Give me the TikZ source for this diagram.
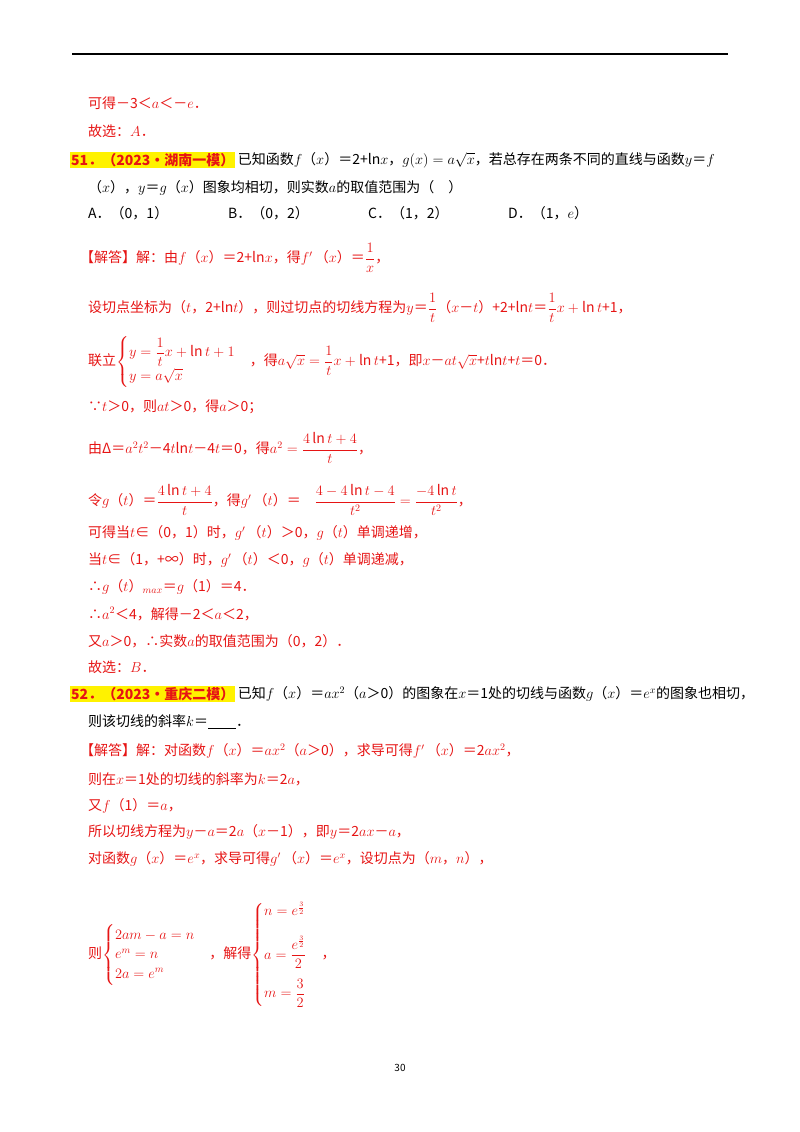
\documentclass[tikz,border=0pt]{standalone}
\usepackage{fontspec}
\usepackage{amsmath}
\setmainfont{Noto Sans CJK SC}
\definecolor{ansred}{RGB}{230,20,20}
\begin{document}
\begin{tikzpicture}[x=1pt,y=-1pt,
  rt/.style={anchor=west,inner sep=0pt,text=ansred,font=\fontsize{14}{16}\selectfont},
  bt/.style={anchor=west,inner sep=0pt,text=black,font=\fontsize{14}{16}\selectfont},
  hl/.style={anchor=west,inner sep=1pt,fill=yellow,text=ansred,font=\fontsize{14}{16}\selectfont\bfseries}]
\useasboundingbox (0,0) rectangle (800,1132);
\draw[line width=1.2pt] (72,54) -- (728,54);
\node[rt] (l1) at (88,103) {可得－3＜$a$＜－$e$．};
\node[rt] (l2) at (88,131) {故选：$A$．};
\node[hl] (h51) at (70,160) {51．（2023•湖南一模）};
\node[bt] (q51) at (h51.east) [anchor=west,xshift=2pt] {已知函数$f$（$x$）＝2+ln$x$，$g(x)=a\sqrt{x}$，若总存在两条不同的直线与函数$y$＝$f$};
\node[bt] (q51b) at (88,188) {（$x$），$y$＝$g$（$x$）图象均相切，则实数$a$的取值范围为（\quad ）};
\node[bt] (oa) at (88,213) {A．（0，1）};
\node[bt] (ob) at (228,213) {B．（0，2）};
\node[bt] (oc) at (368,213) {C．（1，2）};
\node[bt] (od) at (508,213) {D．（1，$e$）};
\node[rt] (s1) at (80,258) {【解答】解：由$f$（$x$）＝2+ln$x$，得$f'$\,（$x$）＝$\dfrac{1}{x}$，};
\node[rt] (s2) at (88,308) {设切点坐标为（$t$，2+ln$t$），则过切点的切线方程为$y$＝$\dfrac1t$（$x$－$t$）+2+ln$t$＝$\dfrac1t x+\ln t$+1，};
\node[rt] (s3) at (88,362) {联立$\begin{cases}y=\dfrac1t x+\ln t+1\\[4pt] y=a\sqrt{x}\end{cases}$，得$a\sqrt{x}=\dfrac1t x+\ln t$+1，即$x$－$at\sqrt{x}$+$t$ln$t$+$t$＝0．};
\node[rt] (s4) at (88,407) {∵$t$＞0，则$at$＞0，得$a$＞0；};
\node[rt] (s5) at (88,448) {由Δ＝$a^2t^2$－4$t$ln$t$－4$t$＝0，得$a^2=\dfrac{4\ln t+4}{t}$，};
\node[rt] (s6) at (88,500) {令$g$（$t$）＝$\dfrac{4\ln t+4}{t}$，得$g'$\,（$t$）＝\quad$\dfrac{4-4\ln t-4}{t^2}=\dfrac{-4\ln t}{t^2}$，};
\node[rt] (s7) at (88,533) {可得当$t$∈（0，1）时，$g'$\,（$t$）＞0，$g$（$t$）单调递增，};
\node[rt] (s8) at (88,560) {当$t$∈（1，+∞）时，$g'$\,（$t$）＜0，$g$（$t$）单调递减，};
\node[rt] (s9) at (88,587) {∴$g$（$t$）$_{max}$＝$g$（1）＝4．};
\node[rt] (s10) at (88,614) {∴$a^2$＜4，解得－2＜$a$＜2，};
\node[rt] (s11) at (88,641) {又$a$＞0，∴实数$a$的取值范围为（0，2）．};
\node[rt] (s12) at (88,667) {故选：$B$．};
\node[hl] (h52) at (70,694) {52．（2023•重庆二模）};
\node[bt] (q52) at (h52.east) [anchor=west,xshift=2pt] {已知$f$（$x$）＝$ax^2$（$a$＞0）的图象在$x$＝1处的切线与函数$g$（$x$）＝$e^x$的图象也相切，};
\node[bt] (q52b) at (88,722) {则该切线的斜率$k$＝\underline{\hspace{2em}}．};
\node[rt] (r1) at (80,751) {【解答】解：对函数$f$（$x$）＝$ax^2$（$a$＞0），求导可得$f'$\,（$x$）＝2$ax^2$，};
\node[rt] (r2) at (88,779) {则在$x$＝1处的切线的斜率为$k$＝2$a$，};
\node[rt] (r3) at (88,806) {又$f$（1）＝$a$，};
\node[rt] (r4) at (88,832) {所以切线方程为$y$－$a$＝2$a$（$x$－1），即$y$＝2$ax$－$a$，};
\node[rt] (r5) at (88,859) {对函数$g$（$x$）＝$e^x$，求导可得$g'$\,（$x$）＝$e^x$，设切点为（$m$，$n$），};
\node[rt] (r6) at (88,955) {则$\begin{cases}2am-a=n\\ e^m=n\\ 2a=e^m\end{cases}$，解得$\begin{cases}n=e^{\frac32}\\[14pt] a=\dfrac{e^{\frac32}}{2}\\[14pt] m=\dfrac32\end{cases}$，};
\node[inner sep=0pt,font=\fontsize{10}{12}\selectfont] (pg) at (400,1068) {30};
\end{tikzpicture}
\end{document}
